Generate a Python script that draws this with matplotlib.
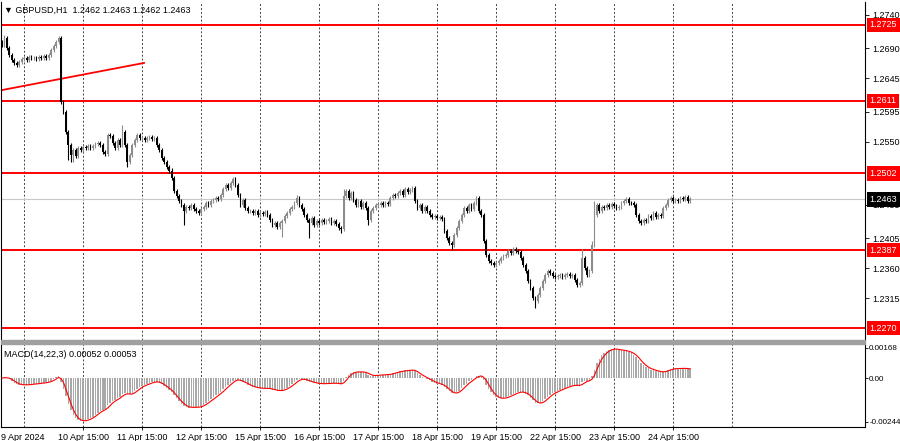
import matplotlib
matplotlib.use('Agg')
import matplotlib.pyplot as plt
import matplotlib.transforms as mtransforms
from matplotlib.patches import Rectangle
import numpy as np
import pandas as pd

plt.rcParams['font.family'] = ['Liberation Sans', 'DejaVu Sans']

# --- data (one close per hourly bar) ---
TITLE = '\u25bc GBPUSD,H1  1.2462 1.2463 1.2462 1.2463'
FIRST_OPEN = 1.2700
CLOSES = [
    # 9 Apr
    1.2695, 1.2705, 1.2690, 1.2680, 1.2672, 1.2668, 1.2665, 1.2670, 1.2674, 1.2676,
    1.2673, 1.2677, 1.2675, 1.2676, 1.2674, 1.2677, 1.2675, 1.2678, 1.2676, 1.2680,
    1.2688, 1.2694, 1.2700, 1.2705,
    # 10 Apr
    1.2610, 1.2595, 1.2565, 1.2545, 1.2530, 1.2537, 1.2528, 1.2540, 1.2538, 1.2542,
    1.2540, 1.2543, 1.2541, 1.2544, 1.2546, 1.2548, 1.2545, 1.2535, 1.2532, 1.2560,
    1.2558, 1.2548, 1.2540, 1.2552, 1.2545, 1.2565, 1.2545, 1.2520, 1.2530, 1.2545,
    # 11-12 Apr
    1.2552, 1.2560, 1.2555, 1.2556, 1.2552, 1.2555, 1.2557, 1.2554, 1.2556, 1.2545,
    1.2537, 1.2525, 1.2520, 1.2512, 1.2505, 1.2495, 1.2475, 1.2468, 1.2460, 1.2455,
    1.2445, 1.2452, 1.2450, 1.2455, 1.2448, 1.2445, 1.2442, 1.2448, 1.2452, 1.2458,
    1.2455, 1.2460, 1.2462, 1.2465, 1.2463, 1.2470, 1.2478, 1.2485, 1.2480, 1.2488,
    # 15-16 Apr
    1.2493, 1.2485, 1.2470, 1.2455, 1.2462, 1.2450, 1.2445, 1.2445, 1.2442, 1.2446,
    1.2440, 1.2443, 1.2441, 1.2444, 1.2440, 1.2432, 1.2425, 1.2428, 1.2422, 1.2427,
    1.2430, 1.2438, 1.2442, 1.2448, 1.2452, 1.2458, 1.2465, 1.2455, 1.2448, 1.2440,
    1.2432, 1.2428, 1.2435, 1.2425, 1.2430, 1.2428, 1.2432, 1.2429, 1.2431, 1.2433,
    # 17-18 Apr
    1.2428, 1.2430, 1.2426, 1.2420, 1.2418, 1.2468, 1.2475, 1.2465, 1.2472, 1.2462,
    1.2455, 1.2460, 1.2452, 1.2458, 1.2450, 1.2432, 1.2445, 1.2450, 1.2455, 1.2455,
    1.2457, 1.2454, 1.2458, 1.2456, 1.2465, 1.2470, 1.2468, 1.2472, 1.2475, 1.2470,
    1.2478, 1.2474, 1.2477, 1.2480, 1.2460, 1.2450, 1.2455, 1.2445, 1.2452, 1.2446,
    # 19 Apr
    1.2440, 1.2437, 1.2438, 1.2435, 1.2436, 1.2433, 1.2415, 1.2405, 1.2398, 1.2395,
    1.2410, 1.2420, 1.2430, 1.2440, 1.2450, 1.2445, 1.2455, 1.2448, 1.2458, 1.2465,
    1.2445, 1.2440, 1.2400, 1.2380, 1.2370, 1.2368, 1.2365, 1.2367, 1.2370, 1.2375,
    # 22 Apr
    1.2378, 1.2380, 1.2385, 1.2382, 1.2388, 1.2385, 1.2384, 1.2375, 1.2365, 1.2355,
    1.2340, 1.2330, 1.2315, 1.2310, 1.2320, 1.2330, 1.2340, 1.2350, 1.2355, 1.2352,
    1.2348, 1.2346, 1.2348, 1.2350, 1.2347, 1.2349, 1.2351, 1.2348, 1.2350, 1.2342,
    # 23-24 Apr
    1.2335, 1.2338, 1.2375, 1.2360, 1.2350, 1.2355, 1.2395, 1.2440, 1.2455, 1.2445,
    1.2452, 1.2450, 1.2455, 1.2452, 1.2456, 1.2453, 1.2450, 1.2452, 1.2458, 1.2460,
    1.2463, 1.2458, 1.2457, 1.2455, 1.2440, 1.2430, 1.2428, 1.2432, 1.2430, 1.2438,
    1.2435, 1.2442, 1.2436, 1.2440, 1.2438, 1.2450, 1.2455, 1.2462, 1.2465, 1.2460,
    1.2462, 1.2460, 1.2465, 1.2463, 1.2466, 1.2461, 1.2463,
]
# bars whose wick clearly sticks out
HIGH_SPIKES = {1: 1.2710, 23: 1.2708, 49: 1.2575, 69: 1.2510, 94: 1.2497,
               120: 1.2470, 139: 1.2478, 193: 1.2468, 236: 1.2388, 240: 1.2400,
               241: 1.2460}
LOW_SPIKES = {27: 1.2522, 28: 1.2520, 29: 1.2520, 51: 1.2512, 74: 1.2425,
              114: 1.2407, 125: 1.2405, 138: 1.2412, 149: 1.2425, 183: 1.2387,
              217: 1.2300}

LEVELS = [1.2725, 1.2611, 1.2502, 1.2387, 1.2270]
LAST_PRICE = 1.2463
PRICE_TICKS = [1.2740, 1.2690, 1.2645, 1.2595, 1.2550, 1.2455,
               1.2405, 1.2360, 1.2315]
TREND_X = [-0.4, 57.8]
TREND_Y = [1.2627, 1.2668]

FIRST_DATE = '9 Apr 2024'
DATE_LABELS = ['10 Apr 15:00', '11 Apr 15:00', '12 Apr 15:00', '15 Apr 15:00',
               '16 Apr 15:00', '17 Apr 15:00', '18 Apr 15:00', '19 Apr 15:00',
               '22 Apr 15:00', '23 Apr 15:00', '24 Apr 15:00']

MACD_FAST, MACD_SLOW, MACD_SIG = 14, 22, 3
MACD_TEXT = 'MACD(14,22,3) 0.00052 0.00053'
MACD_TICKS = [0.00168, 0.0, -0.00244]
MACD_TICK_LABELS = ['0.00168', '0.00', '-0.00244']

# --- layout (pixels of a 900x441 canvas) ---
W, H = 900, 441
XL, XR = 1, 865
fig = plt.figure(figsize=(W / 100, H / 100), dpi=100)
ax = fig.add_axes([XL / W, (H - 340) / H, (XR - XL) / W, 338 / H])
axm = fig.add_axes([XL / W, (H - 427) / H, (XR - XL) / W, 83 / H])
fig.patches.append(Rectangle((XL / W, (H - 344) / H), (XR - XL) / W, 4 / H,
                             transform=fig.transFigure, color='#a0a0a0', zorder=5))

closes = np.array(CLOSES)
opens = np.concatenate([[FIRST_OPEN], closes[:-1]])
WICK = 0.0003
highs = np.maximum(opens, closes) + WICK
lows = np.minimum(opens, closes) - WICK
for i, v in HIGH_SPIKES.items():
    highs[i] = v
for i, v in LOW_SPIKES.items():
    lows[i] = v
idx = np.arange(len(closes))
colors = np.where(closes >= opens, '#8c8c8c', 'black')

xlim = (-0.4, (XR - 2) / 2.458)
grid_pos = 9 + 24 * np.arange(13)
FS = 6.5

# --- price panel ---
ax.vlines(idx, lows, highs, colors=colors, lw=0.8, zorder=3)
body = np.maximum(np.abs(closes - opens), 0.00006)
ax.bar(idx, body, bottom=np.minimum(opens, closes), width=0.7, color=colors,
       linewidth=0, zorder=3)
for lvl in LEVELS:
    ax.axhline(lvl, color='red', lw=1.4, zorder=2)
ax.axhline(LAST_PRICE, color='#c8c8c8', lw=0.8, zorder=1)
ax.plot(TREND_X, TREND_Y, color='red', lw=1.3, zorder=2)
for gx in grid_pos:
    ax.axvline(gx, color='#444444', lw=0.7, ls=(0, (2, 2)), zorder=0)

ax.set_xlim(*xlim)
ax.set_ylim(1.2252, 1.27595)
ax.yaxis.tick_right()
ax.set_yticks(PRICE_TICKS)
ax.set_yticklabels([f'{t:.4f}' for t in PRICE_TICKS])
ax.tick_params(axis='y', labelsize=FS, length=3, pad=2, width=0.6)
ax.set_xticks([])
for s in ['top', 'bottom']:
    ax.spines[s].set_visible(False)

tr = mtransforms.blended_transform_factory(ax.transAxes, ax.transData)
for lvl, fc in [(v, 'red') for v in LEVELS] + [(LAST_PRICE, 'black')]:
    ax.text(1.0055, lvl, f'{lvl:.4f}', transform=tr, fontsize=FS, color='white',
            va='center', ha='left', zorder=10, clip_on=False,
            bbox=dict(boxstyle='square,pad=0.3', fc=fc, ec='none'))
ax.text(0.004, 0.988, TITLE, transform=ax.transAxes, fontsize=FS, va='top',
        ha='left')

# --- MACD panel ---
s = pd.Series(closes)
macd = (s.ewm(span=MACD_FAST, adjust=False).mean()
        - s.ewm(span=MACD_SLOW, adjust=False).mean())
signal = macd.rolling(MACD_SIG, min_periods=1).mean()
axm.bar(idx, macd, width=0.6, color='#a8a8a8', linewidth=0, zorder=2)
axm.plot(idx, signal, color='red', lw=0.8, zorder=3)
for gx in grid_pos:
    axm.axvline(gx, color='#444444', lw=0.7, ls=(0, (2, 2)), zorder=0)
axm.set_xlim(*xlim)
axm.set_ylim(-0.00272, 0.00190)
axm.yaxis.tick_right()
axm.set_yticks(MACD_TICKS)
axm.set_yticklabels(MACD_TICK_LABELS)
axm.tick_params(axis='y', labelsize=5.8, length=2, pad=1, width=0.6)
axm.set_xticks(grid_pos[1:12])
axm.set_xticklabels(DATE_LABELS)
axm.tick_params(axis='x', labelsize=FS, length=2, pad=2, width=0.6)
axm.spines['top'].set_visible(False)
axm.text(0.0, -0.075, FIRST_DATE, transform=axm.transAxes, fontsize=FS,
         va='top', ha='left')
axm.text(0.004, 0.93, MACD_TEXT, transform=axm.transAxes, fontsize=FS,
         va='top', ha='left')

fig.savefig('out.png', dpi=100)
